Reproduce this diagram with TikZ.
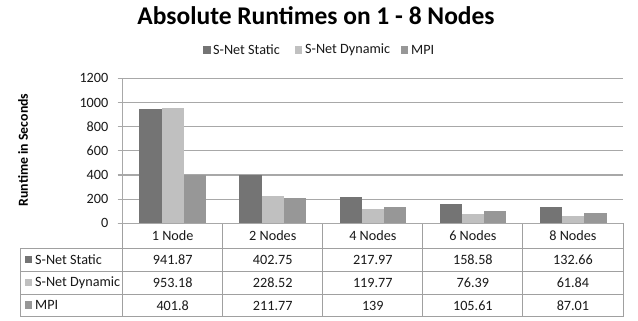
\documentclass[tikz,border=0pt]{standalone}
\usepackage{fontspec}
\setmainfont{Carlito}
\definecolor{cstatic}{HTML}{747474}
\definecolor{cdyn}{HTML}{C0C0C0}
\definecolor{cmpi}{HTML}{979797}
\definecolor{gridc}{HTML}{A8A8A8}
\definecolor{tabc}{HTML}{A0A0A0}
\tikzset{
  gridline/.style={draw=gridc, line width=1.1pt},
  tabline/.style={draw=tabc, line width=1pt},
  lbl/.style={inner sep=0pt, font=\fontsize{14.2}{16}\selectfont, text=black!90},
  keybox/.style={fill=#1, minimum size=7.5pt, inner sep=0pt},
}
\begin{document}
\begin{tikzpicture}[x=1pt,y=-1pt]
\useasboundingbox (0,0) rectangle (638,321);
\fill[white] (0,0) rectangle (638,321);

% title
\node[inner sep=0pt, font=\fontsize{25.5}{28}\bfseries\selectfont] (title) at (316,15.3) {Absolute Runtimes on 1 - 8 Nodes};

% legend
\node[keybox=cstatic] (k1) at (207,50) {};
\node[lbl, anchor=west] (k1t) at (213,50) {S-Net Static};
\node[keybox=cdyn] (k2) at (298.7,50) {};
\node[lbl, anchor=west] (k2t) at (305,50) {S-Net Dynamic};
\node[keybox=cmpi] (k3) at (404.7,50) {};
\node[lbl, anchor=west] (k3t) at (411,50) {MPI};

% axis title
\node[inner sep=0pt, rotate=90, font=\fontsize{13.8}{16}\bfseries\selectfont] (ytitle) at (23,150) {Runtime in Seconds};

% gridlines, ticks and tick labels
\foreach \v in {0,...,6}{
  \pgfmathsetmacro\yy{223.3-24.17*\v}
  \pgfmathtruncatemacro\val{200*\v}
  \draw[gridline] (117.5,\yy) -- (623,\yy);
  \node[lbl, anchor=east] (tick\v) at (108.5,\yy) {\val};
}
\draw[gridline] (122.7,78.3) -- (122.7,223.3);

% bars
\foreach \s/\d/\m [count=\i from 0] in {941.87/953.18/401.8, 402.75/228.52/211.77, 217.97/119.77/139, 158.58/76.39/105.61, 132.66/61.84/87.01}{
  \pgfmathsetmacro\L{122.7+100.06*\i}
  \fill[cstatic] ({\L+16.7},223.3) rectangle ({\L+39},{223.3-\s*0.12083});
  \fill[cdyn]    ({\L+39},223.3)   rectangle ({\L+61.3},{223.3-\d*0.12083});
  \fill[cmpi]    ({\L+61.3},223.3) rectangle ({\L+83.6},{223.3-\m*0.12083});
}

% data table
\draw[tabline] (20,248.3) -- (623,248.3);
\draw[tabline] (20,271.7) -- (623,271.7);
\draw[tabline] (20,294.3) -- (623,294.3);
\draw[tabline] (20,316.7) -- (623,316.7);
\draw[tabline] (20,248.3) -- (20,316.7);
\foreach \i in {0,...,5}{
  \pgfmathsetmacro\L{122.7+100.06*\i}
  \draw[tabline] (\L,223.3) -- (\L,316.7);
}
\draw[gridline] (117.5,223.3) -- (623,223.3);

% row headers
\node[keybox=cstatic] (r1k) at (28.7,259.5) {};
\node[lbl, anchor=west] (r1) at (35,259.5) {S-Net Static};
\node[keybox=cdyn] (r2k) at (28.7,282.5) {};
\node[lbl, anchor=west] (r2) at (35,282.5) {S-Net Dynamic};
\node[keybox=cmpi] (r3k) at (28.7,305) {};
\node[lbl, anchor=west] (r3) at (35,305) {MPI};

% column headers and values
\foreach \c/\s/\d/\m [count=\i from 0] in {1 Node/941.87/953.18/401.8, 2 Nodes/402.75/228.52/211.77, 4 Nodes/217.97/119.77/139, 6 Nodes/158.58/76.39/105.61, 8 Nodes/132.66/61.84/87.01}{
  \pgfmathsetmacro\C{172.7+100.06*\i}
  \node[lbl] (h\i) at (\C,236) {\c};
  \node[lbl] (s\i) at (\C,260) {\s};
  \node[lbl] (d\i) at (\C,283) {\d};
  \node[lbl] (m\i) at (\C,305.5) {\m};
}
\end{tikzpicture}
\end{document}
